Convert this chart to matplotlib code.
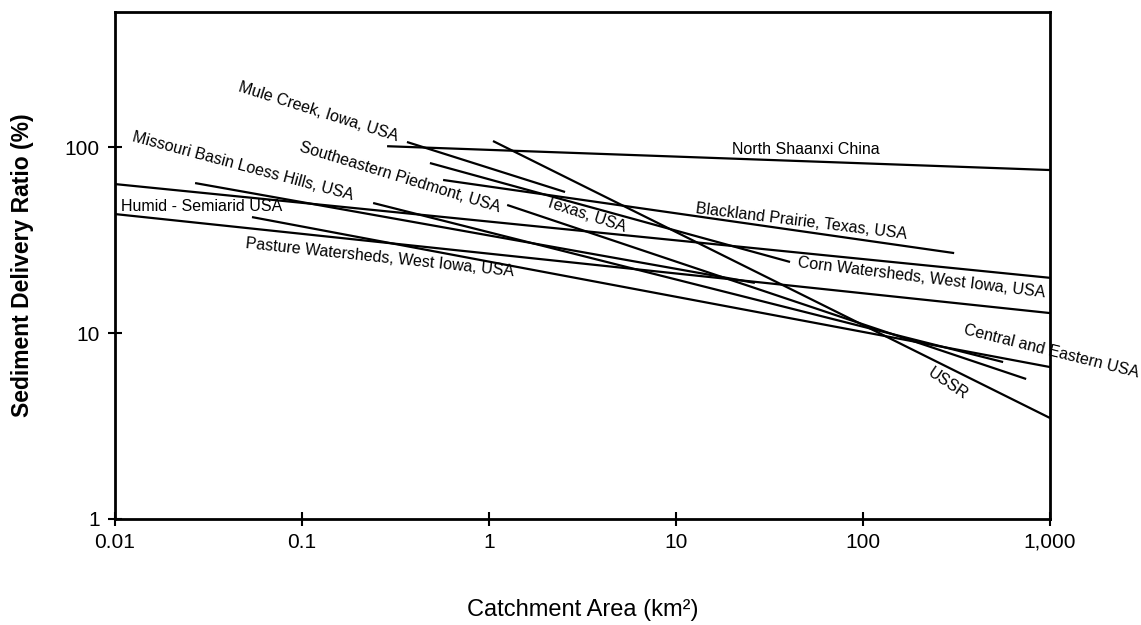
import matplotlib
matplotlib.use("Agg")
import matplotlib.pyplot as plt
from matplotlib.ticker import FixedLocator, FixedFormatter, NullLocator

plt.rcParams['font.family'] = ['Liberation Sans', 'DejaVu Sans']

# each relationship is a straight line on log-log axes: (area, SDR) at both ends
names = ["North Shaanxi", "Mule Creek", "USSR", "SE Piedmont", "Blackland",
         "Full 1", "Full 2", "Missouri", "Mid 1", "Texas", "Central"]
x_start = [0.285, 0.364, 1.05, 0.483, 0.568, 0.01, 0.01, 0.0268, 0.240, 1.25, 0.054]
x_end = [1000, 2.55, 1000, 40.7, 307, 1000, 1000, 26.4, 561, 745, 1000]
y_start = [101, 106.4, 107.7, 82, 66.5, 63.2, 43.6, 64, 50, 48.8, 42]
y_end = [75.2, 57.3, 3.49, 24.1, 26.9, 19.8, 12.8, 18.6, 6.98, 5.66, 6.56]

# line labels
label_text = ["Mule Creek, Iowa, USA", "Missouri Basin Loess Hills, USA",
              "Southeastern Piedmont, USA", "Humid - Semiarid USA",
              "Pasture Watersheds, West Iowa, USA", "Texas, USA",
              "North Shaanxi China", "Blackland Prairie, Texas, USA",
              "Corn Watersheds, West Iowa, USA", "Central and Eastern USA", "USSR"]
label_x = [0.1218, 0.0484, 0.334, 0.0292, 0.261, 3.30, 49.6, 46.6, 204, 1012, 285]
label_y = [154, 79, 69, 47.6, 25.3, 43.1, 96.4, 40.0, 19.8, 8.0, 5.32]
label_rot = [-17.5, -15, -17, 0, -6, -18, 0, -7, -7, -14, -34]

xticks = [0.01, 0.1, 1, 10, 100, 1000]
xtick_labels = ["0.01", "0.1", "1", "10", "100", "1,000"]
yticks = [1, 10, 100]
ytick_labels = ["1", "10", "100"]

fig = plt.figure(figsize=(11.41, 6.25), dpi=100)
ax = fig.add_axes([0.1008, 0.1696, 0.8195, 0.8112])

for i in range(len(names)):
    ax.plot([x_start[i], x_end[i]], [y_start[i], y_end[i]], color="black", lw=1.6,
            solid_capstyle="butt")

for t, x, y, r in zip(label_text, label_x, label_y, label_rot):
    ax.text(x, y, t, fontsize=11.5, rotation=r, rotation_mode="anchor",
            ha="center", va="center", clip_on=False)

ax.set_xscale("log")
ax.set_yscale("log")
ax.set_xlim(0.01, 1000)
ax.set_ylim(1, 532)

ax.xaxis.set_major_locator(FixedLocator(xticks))
ax.xaxis.set_major_formatter(FixedFormatter(xtick_labels))
ax.yaxis.set_major_locator(FixedLocator(yticks))
ax.yaxis.set_major_formatter(FixedFormatter(ytick_labels))
ax.xaxis.set_minor_locator(NullLocator())
ax.yaxis.set_minor_locator(NullLocator())
ax.tick_params(direction="inout", length=10, width=1.5, labelsize=15)
ax.tick_params(axis="x", pad=5)
ax.tick_params(axis="y", pad=6)

for s in ax.spines.values():
    s.set_linewidth(2)

ax.set_xlabel("Catchment Area (km²)", fontsize=17, labelpad=34)
ax.set_ylabel("Sediment Delivery Ratio (%)", fontsize=16.5, fontweight="bold", labelpad=22)

fig.savefig("out.png", dpi=100)
